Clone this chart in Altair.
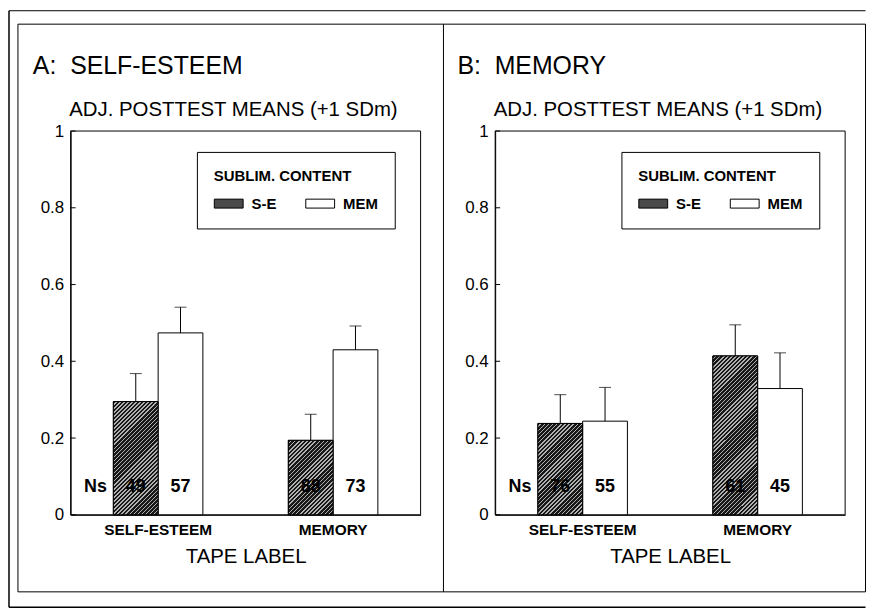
import math
import altair as alt
import pandas as pd

# ---------------- data ----------------
tape_labels = ["SELF-ESTEEM", "MEMORY"]
contents = ["S-E", "MEM"]
bar_tape = ["SELF-ESTEEM", "SELF-ESTEEM", "MEMORY", "MEMORY"]
bar_content = ["S-E", "MEM", "S-E", "MEM"]

# Panel A: self-esteem outcome
a_means = [0.295, 0.474, 0.194, 0.430]
a_upper = [0.368, 0.541, 0.262, 0.492]   # mean + 1 SDm
a_ns = [49, 57, 88, 73]

# Panel B: memory outcome
b_means = [0.238, 0.244, 0.414, 0.329]
b_upper = [0.313, 0.332, 0.495, 0.422]
b_ns = [76, 55, 61, 45]

y_ticks = [0, 0.2, 0.4, 0.6, 0.8, 1]
panel_titles = ["A:\u00a0\u00a0SELF-ESTEEM", "B:\u00a0\u00a0MEMORY"]

# ---------------- layout / style ----------------
W, H = 352, 386          # one panel's plot area
B_X0 = 427               # left edge of panel B's plot, relative to panel A's plot
BAR_W = 45
FONT = "Liberation Sans"
one = pd.DataFrame({"k": [0]})


def hatch_fill(value):
    """45-degree '/' stripes inside a bar of the given value (style only)."""
    w, h = BAR_W, max(value * H, 1.0)
    k = (w + h) / (w * w + h * h)
    n = max(int(round((w + h) / (math.sqrt(2) * 2.9))), 4)
    stops = []
    for i in range(n):
        a = i / n
        m = (i + 0.62) / n
        b = (i + 1) / n
        stops += [alt.GradientStop(offset=a, color="#181818"),
                  alt.GradientStop(offset=m, color="#181818"),
                  alt.GradientStop(offset=m, color="#b0b0b0"),
                  alt.GradientStop(offset=b, color="#b0b0b0")]
    return alt.LinearGradient(gradient="linear", stops=stops,
                              x1=0, y1=0, x2=k * w, y2=k * h)


def hline(x1, x2, y, sw=1.0):
    return alt.Chart(one).mark_rule(color="black", strokeWidth=sw).encode(
        x=alt.value(x1), x2=alt.value(x2), y=alt.value(y))


def vline(x, y1, y2, sw=1.0):
    return alt.Chart(one).mark_rule(color="black", strokeWidth=sw).encode(
        x=alt.value(x), y=alt.value(y1), y2=alt.value(y2))


def box(x1, x2, y1, y2):
    return alt.Chart(one).mark_rect(fillOpacity=0, stroke="black", strokeWidth=1).encode(
        x=alt.value(x1), x2=alt.value(x2), y=alt.value(y1), y2=alt.value(y2))


def make_panel(means, upper, ns, x0, title):
    df = pd.DataFrame({"tape": bar_tape, "content": bar_content,
                       "mean": means, "upper": upper, "n": ns})
    ticks_df = pd.DataFrame({"v": y_ticks})

    x_scale = alt.Scale(domain=tape_labels, range=[x0, x0 + W],
                        paddingInner=0, paddingOuter=0)
    x_axis = alt.Axis(orient="bottom", title="TAPE LABEL", labelAngle=0, ticks=False,
                      labelFontSize=15.5, labelFontWeight="bold", labelPadding=8,
                      titleFontSize=20.5, titleFontWeight="normal", titlePadding=8,
                      domainColor="black", labelColor="black", titleColor="black")
    X = alt.X("tape:N", sort=tape_labels, scale=x_scale, axis=x_axis)
    XO = alt.XOffset("content:N", sort=contents,
                     scale=alt.Scale(domain=contents, paddingInner=0, paddingOuter=0.955))
    y_scale = alt.Scale(domain=[0, 1], nice=False)
    y_axis = alt.Axis(orient="left", offset=-x0, values=y_ticks, format="~g",
                      ticks=False, grid=False,
                      labelFontSize=17, labelPadding=7, labelColor="black",
                      domainColor="black",
                      titleAngle=0, titleX=-2, titleY=-15.5, titleAlign="left",
                      titleBaseline="alphabetic", titleFontSize=20.5,
                      titleFontWeight="normal", titleColor="black")
    ytitle = "ADJ. POSTTEST MEANS (+1 SDm)"

    def Y(field):
        return alt.Y(field, scale=y_scale, axis=y_axis, title=ytitle)

    base = alt.Chart(df)

    bars = base.mark_bar(stroke="black", strokeWidth=1).encode(
        x=X, xOffset=XO, y=Y("mean:Q"),
        color=alt.Color("content:N", sort=contents,
                        scale=alt.Scale(domain=contents, range=["#4a4a4a", "white"]),
                        legend=alt.Legend(
                            title="SUBLIM. CONTENT", orient="none",
                            legendX=x0 + 127, legendY=21,
                            direction="horizontal", columns=2, padding=17,
                            fillColor="white", strokeColor="black", cornerRadius=0,
                            titleFontSize=15, titleFontWeight="bold", titleColor="black",
                            titlePadding=5,
                            labelFontSize=15, labelFontWeight="bold", labelColor="black",
                            labelOffset=8, columnPadding=26,
                            symbolType="M-1,-0.31H1V0.31H-1Z", symbolSize=841,
                            symbolStrokeColor="black", symbolStrokeWidth=1,
                            symbolOpacity=1)))

    hatched_layers = []
    for t, c, m in zip(bar_tape, bar_content, means):
        if c != "S-E":
            continue
        hatched_layers.append(
            base.transform_filter((alt.datum.tape == t) & (alt.datum.content == c))
            .mark_bar(fill=hatch_fill(m), stroke="black", strokeWidth=1)
            .encode(x=X, xOffset=XO, y=Y("mean:Q")))

    err = base.mark_rule(color="black", strokeWidth=1).encode(
        x=X, xOffset=XO, y=Y("mean:Q"), y2="upper:Q")
    cap = base.mark_tick(orient="horizontal", size=12, thickness=1, color="black").encode(
        x=X, xOffset=XO, y=Y("upper:Q"))

    nlab = base.mark_text(fontSize=18, fontWeight="bold", baseline="middle",
                          color="black").encode(
        x=X, xOffset=XO, y=alt.value(H - 28), text="n:Q")
    ns_lab = alt.Chart(one).mark_text(fontSize=18, fontWeight="bold", baseline="middle",
                                      color="black").encode(
        x=alt.value(x0 + 25), y=alt.value(H - 28), text=alt.value("Ns"))

    inticks = alt.Chart(ticks_df).mark_rule(color="black", strokeWidth=1).encode(
        y=Y("v:Q"), x=alt.value(x0), x2=alt.value(x0 + 5))

    title_txt = alt.Chart(one).mark_text(fontSize=25, align="left", baseline="alphabetic",
                                         color="black").encode(
        x=alt.value(x0 - 38), y=alt.value(-57.5), text=alt.value(title))

    frame = box(x0, x0 + W, 0, H)

    return alt.layer(frame, bars, *hatched_layers, err, cap, inticks, nlab, ns_lab,
                     title_txt)


panel_a = make_panel(a_means, a_upper, a_ns, 0, panel_titles[0])
panel_b = make_panel(b_means, b_upper, b_ns, B_X0, panel_titles[1])

RIGHT = 799.5
decor = [
    box(-53, RIGHT, -107.5, 463.5),          # inner figure frame
    vline(375, -107.5, 463.5),               # divider between panels
    hline(-62, RIGHT, -121),                 # outer page lines
    hline(-62, RIGHT, 479, 1.5),
    vline(-62, -121, 479, 1.5),
]

chart = alt.layer(*decor, panel_a, panel_b).resolve_scale(
    x="independent", xOffset="independent", y="independent", color="independent"
).resolve_axis(x="independent", y="independent").resolve_legend(
    color="independent").properties(
    width=B_X0 + W, height=H, padding=0, background="white").configure(
    font=FONT).configure_view(strokeWidth=0)

chart.save("out.html", embed_options={"renderer": "svg", "actions": False})
